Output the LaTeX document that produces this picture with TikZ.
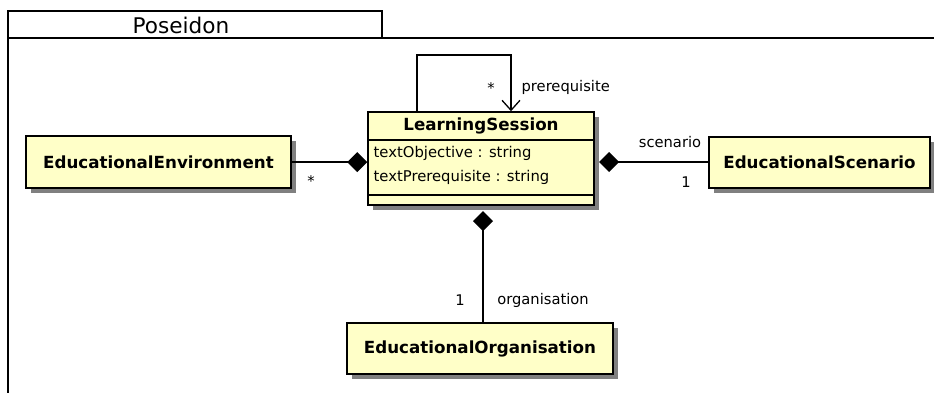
\documentclass[tikz,border=0pt]{standalone}
\usepackage{fontspec}
\setmainfont{DejaVu Sans}
\usetikzlibrary{arrows.meta,shadows}
\definecolor{classfill}{RGB}{255,255,200}
\definecolor{shadowgray}{RGB}{128,128,128}
\begin{document}
\begin{tikzpicture}[x=1pt,y=-1pt,line width=1.3pt,
  classbox/.style={draw=black,line width=1.5pt,fill=classfill,inner sep=0pt,rectangle,
    drop shadow={shadow xshift=5pt,shadow yshift=-5pt,fill=shadowgray,opacity=1}},
  classname/.style={font=\fontsize{16.7}{20}\selectfont\bfseries,inner sep=0pt},
  attrtext/.style={font=\fontsize{14.8}{17}\selectfont,inner sep=0pt,anchor=west},
  assoclabel/.style={font=\fontsize{14.7}{17}\selectfont,inner sep=0pt},
  comp/.style={-{Diamond[length=20pt,width=20pt]}},
  compstart/.style={{Diamond[length=20pt,width=20pt]}-},
  navarrow/.style={-{Straight Barb[length=10pt,width=18pt,line width=1.3pt]}}]
\useasboundingbox (0,0) rectangle (934,392);
% package frame
\draw (8,11) rectangle (382,38);
\node[font=\fontsize{21.6}{26}\selectfont,inner sep=0pt] (pkgname) at (181,25) {Poseidon};
\draw (8,393) -- (8,38) -- (935,38);
% classes
\node[classbox,minimum width=226pt,minimum height=93pt] (LS) at (481,158.5) {};
\node[classname] (LStitle) at (481,126) {LearningSession};
\draw[line width=1.5pt] (LS.west |- 0,140) -- (LS.east |- 0,140);
\draw[line width=1.5pt] (LS.west |- 0,195) -- (LS.east |- 0,195);
\node[attrtext] (attrA) at (373,153) {textObjective : string};
\node[attrtext] (attrB) at (373,177) {textPrerequisite : string};

\node[classbox,minimum width=265pt,minimum height=52pt] (EE) at (158.5,162) {};
\node[classname] (EEtitle) at (EE.center) {EducationalEnvironment};

\node[classbox,minimum width=221pt,minimum height=51pt] (ES) at (819.5,162.5) {};
\node[classname] (EStitle) at (ES.center) {EducationalScenario};

\node[classbox,minimum width=266pt,minimum height=51pt] (EO) at (480,348.5) {};
\node[classname] (EOtitle) at (EO.center) {EducationalOrganisation};

% self association
\coordinate (loopA) at (417,55);
\coordinate (loopB) at (511,55);
\draw[navarrow] (LS.north -| loopA) -- (loopA) -- (loopB) -- (LS.north -| loopB);
\node[assoclabel] (loopmult) at (491,88) {*};
\node[assoclabel,anchor=west] (loopname) at (521,87) {prerequisite};

% environment composition
\draw[comp] (EE.east) -- (LS.west |- EE.east);
\node[assoclabel] (envmult) at (311,181) {*};

% scenario composition
\coordinate (dR) at (599,162);
\draw[compstart] (dR) -- (ES.west |- dR);
\node[assoclabel] (scenname) at (670,142) {scenario};
\node[assoclabel] (scenmult) at (686,182) {1};

% organisation composition
\coordinate (dB) at (483,211);
\draw[compstart] (dB) -- (EO.north -| dB);
\node[assoclabel] (orgmult) at (460,300) {1};
\node[assoclabel] (orgname) at (543,300) {organisation};
\end{tikzpicture}
\end{document}
